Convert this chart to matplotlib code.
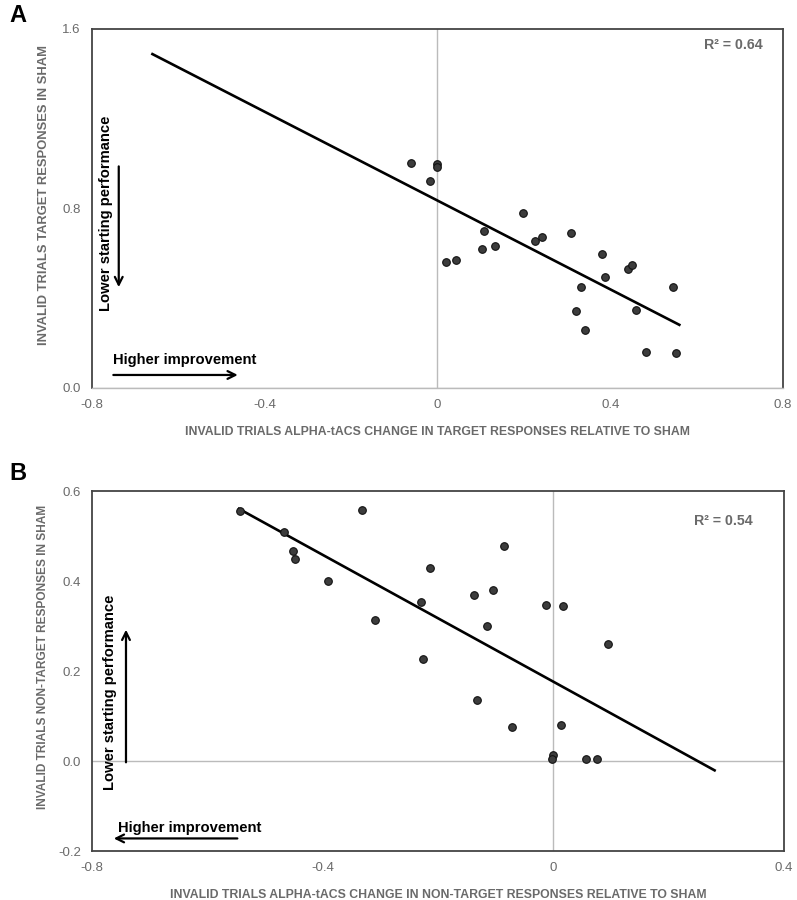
import numpy as np
import matplotlib
matplotlib.use('Agg')
import matplotlib.pyplot as plt

plt.rcParams['font.family'] = ['Liberation Sans', 'DejaVu Sans']

# panel A: change in target responses vs target responses in sham
a_x = [-0.062, -0.002, -0.002, -0.018, 0.198, 0.108, 0.102, 0.133, 0.020, 0.043,
       0.226, 0.241, 0.309, 0.380, 0.387, 0.441, 0.451, 0.332, 0.321, 0.341,
       0.460, 0.545, 0.482, 0.553]
a_y = [1.001, 1.000, 0.983, 0.924, 0.781, 0.698, 0.621, 0.631, 0.560, 0.570,
       0.654, 0.674, 0.692, 0.598, 0.493, 0.532, 0.548, 0.449, 0.343, 0.260,
       0.349, 0.449, 0.160, 0.156]
a_trend_x = [-0.66, 0.56]
a_r2 = 'R² = 0.64'

# panel B: change in non-target responses vs non-target responses in sham
b_x = [-0.544, -0.332, -0.467, -0.451, -0.447, -0.391, -0.309, -0.229, -0.213, -0.225,
       -0.138, -0.104, -0.085, -0.115, -0.132, -0.072, -0.013, 0.017, 0.095, 0.013,
       0.000, -0.002, 0.057, 0.076]
b_y = [0.556, 0.558, 0.510, 0.467, 0.450, 0.400, 0.314, 0.354, 0.429, 0.226,
       0.370, 0.381, 0.478, 0.301, 0.136, 0.076, 0.346, 0.344, 0.261, 0.081,
       0.013, 0.004, 0.004, 0.004]
b_trend_x = [-0.545, 0.28]
b_r2 = 'R² = 0.54'

grey = '#6a6a6a'

fig = plt.figure(figsize=(7.97, 9), dpi=100)
axA = fig.add_axes([0.1154, 0.5689, 0.8670, 0.3989])
axB = fig.add_axes([0.1154, 0.0544, 0.8680, 0.4000])


def panel(ax, x, y, tx, r2, r2pos, xlim, ylim, xticks, yticks, xtl, ytl,
          xlabel, ylabel, xls, yls, ylpos):
    ax.set_xlim(*xlim)
    ax.set_ylim(*ylim)
    ax.axvline(0, color='#bbbbbb', lw=1, zorder=1)
    ax.axhline(0, color='#bbbbbb', lw=1, zorder=1)
    slope, icpt = np.polyfit(x, y, 1)
    tx = np.array(tx)
    ax.plot(tx, slope * tx + icpt, color='black', lw=1.9, zorder=2)
    ax.scatter(x, y, s=30, facecolor='#3c3c3c', edgecolor='#111111', lw=0.8, zorder=3)
    ax.set_xticks(xticks)
    ax.set_xticklabels(xtl)
    ax.set_yticks(yticks)
    ax.set_yticklabels(ytl)
    ax.tick_params(length=0, labelsize=9.5, labelcolor=grey, pad=8)
    for s in ax.spines.values():
        s.set_color('#444444')
        s.set_linewidth(1.3)
    ax.set_xlabel(xlabel, fontweight='bold', fontsize=xls, color=grey, labelpad=11)
    ax.set_ylabel(ylabel, fontweight='bold', fontsize=yls, color=grey)
    ax.yaxis.set_label_coords(*ylpos)
    ax.text(r2pos[0], r2pos[1], r2, transform=ax.transAxes, ha='right', va='center',
            fontsize=10.2, fontweight='bold', color=grey)


panel(axA, a_x, a_y, a_trend_x, a_r2, (0.971, 0.955), (-0.8, 0.8), (0, 1.6),
      [-0.8, -0.4, 0, 0.4, 0.8], [0, 0.8, 1.6],
      ['-0.8', '-0.4', '0', '0.4', '0.8'], ['0.0', '0.8', '1.6'],
      'INVALID TRIALS ALPHA-tACS CHANGE IN TARGET RESPONSES RELATIVE TO SHAM',
      'INVALID TRIALS TARGET RESPONSES IN SHAM', 8.8, 9.4, (-0.061, 0.538))
axA.spines['bottom'].set_color('#bbbbbb')
axA.spines['bottom'].set_linewidth(1)

panel(axB, b_x, b_y, b_trend_x, b_r2, (0.955, 0.917), (-0.8, 0.4), (-0.2, 0.6),
      [-0.8, -0.4, 0, 0.4], [-0.2, 0, 0.2, 0.4, 0.6],
      ['-0.8', '-0.4', '0', '0.4'], ['-0.2', '0.0', '0.2', '0.4', '0.6'],
      'INVALID TRIALS ALPHA-tACS CHANGE IN NON-TARGET RESPONSES RELATIVE TO SHAM',
      'INVALID TRIALS NON-TARGET RESPONSES IN SHAM', 8.8, 8.6, (-0.062, 0.539))

arrow = dict(arrowstyle='->', color='black', lw=1.6, mutation_scale=14)
note = dict(fontsize=10.6, fontweight='bold')

# panel A annotations
axA.annotate('', xy=(-0.456, 0.058), xytext=(-0.757, 0.058), arrowprops=arrow)
axA.text(-0.752, 0.125, 'Higher improvement', va='center', **note)
axA.annotate('', xy=(-0.738, 0.437), xytext=(-0.738, 1.0), arrowprops=arrow)
axA.text(-0.768, 0.78, 'Lower starting performance', rotation=90,
         ha='center', va='center', **note)

# panel B annotations
axB.annotate('', xy=(-0.767, -0.172), xytext=(-0.543, -0.172), arrowprops=arrow)
axB.text(-0.755, -0.149, 'Higher improvement', va='center', **note)
axB.annotate('', xy=(-0.741, 0.298), xytext=(-0.741, -0.009), arrowprops=arrow)
axB.text(-0.769, 0.153, 'Lower starting performance', rotation=90,
         ha='center', va='center', **note)

fig.text(0.012, 0.983, 'A', fontsize=17, fontweight='bold', va='center')
fig.text(0.012, 0.474, 'B', fontsize=17, fontweight='bold', va='center')

fig.savefig('out.png', dpi=100)
